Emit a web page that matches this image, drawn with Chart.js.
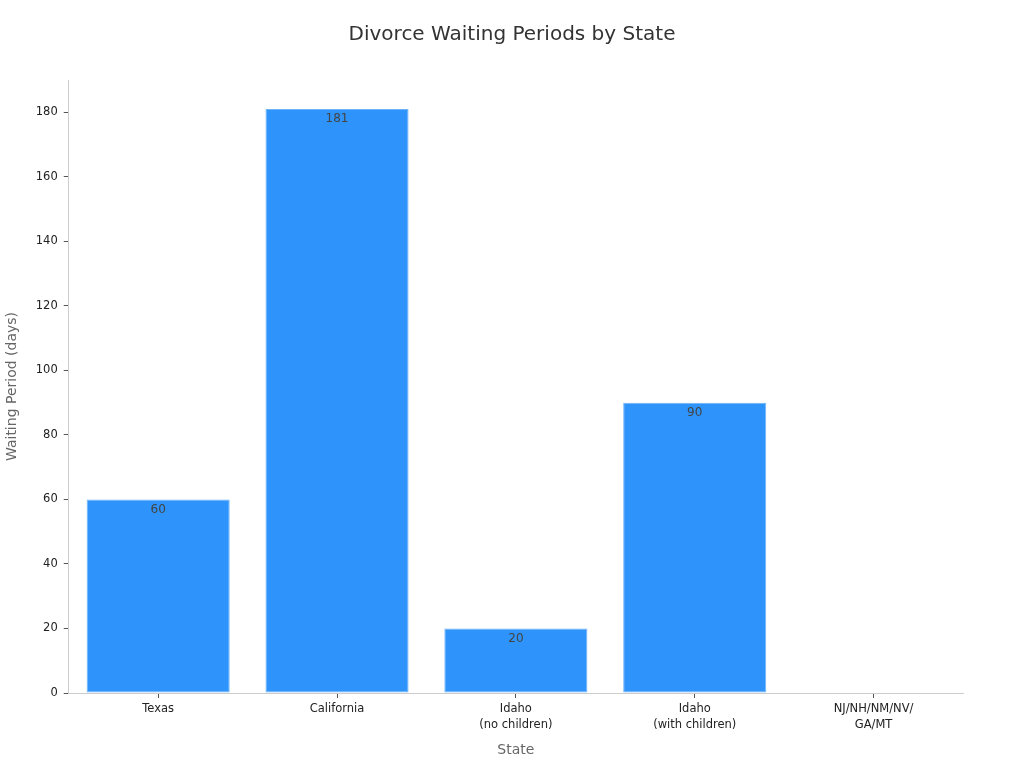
<!DOCTYPE html>
<html>
<head>
<meta charset="utf-8">
<script src="https://cdn.jsdelivr.net/npm/chart.js@4/dist/chart.umd.min.js"></script>
<style>
  html, body { margin: 0; padding: 0; background: #fff; }
  #wrap { width: 1024px; height: 768px; }
</style>
</head>
<body>
<div id="wrap"><canvas id="waitChart"></canvas></div>
<script>
// data
var states = [['Texas'], ['California'], ['Idaho', '(no children)'], ['Idaho', '(with children)'], ['NJ/NH/NM/NV/', 'GA/MT']];
var waitDays = [60, 181, 20, 90, 0];

Chart.defaults.font.family = 'DejaVu Sans, sans-serif';
Chart.defaults.color = '#333';

// value labels just inside the top of each bar
var barLabels = {
    id: 'barLabels',
    afterDatasetsDraw: function (chart) {
        var ctx = chart.ctx;
        var meta = chart.getDatasetMeta(0);
        ctx.save();
        ctx.font = '12px DejaVu Sans, sans-serif';
        ctx.fillStyle = '#444';
        ctx.textAlign = 'center';
        ctx.textBaseline = 'top';
        meta.data.forEach(function (bar, i) {
            var v = waitDays[i];
            if (!v) return;
            ctx.fillText(String(v), bar.x, bar.y + 4);
        });
        ctx.restore();
    }
};

var ctx = document.getElementById('waitChart').getContext('2d');
var waitChart = new Chart(ctx, {
    type: 'bar',
    data: {
        labels: states,
        datasets: [{
            label: 'Waiting Period (days)',
            data: waitDays,
            backgroundColor: '#2E93FA',
            borderColor: '#6DB3F8',
            borderWidth: 1,
            borderSkipped: false,
            categoryPercentage: 1,
            barPercentage: 0.8
        }]
    },
    options: {
        responsive: true,
        maintainAspectRatio: false,
        animation: false,
        layout: { padding: { left: 0, right: 0, top: 0, bottom: 5 } },
        plugins: {
            legend: { display: false },
            tooltip: { enabled: false },
            title: {
                display: true,
                text: 'Divorce Waiting Periods by State',
                color: '#333',
                font: { size: 20, weight: 'normal' },
                padding: { top: 23, bottom: 33 }
            }
        },
        scales: {
            x: {
                grid: { display: true, offset: false, drawOnChartArea: false, tickLength: 5, color: '#555' },
                border: { color: '#ccc' },
                ticks: { color: '#222', font: { size: 11.5, lineHeight: 1.4 }, padding: 3 },
                title: { display: true, text: 'State', color: '#666', font: { size: 14 }, padding: { top: 6 } }
            },
            y: {
                min: 0,
                max: 190,
                grid: { display: true, drawOnChartArea: false, tickLength: 5, color: '#555' },
                border: { color: '#ccc' },
                ticks: {
                    stepSize: 20,
                    color: '#222',
                    font: { size: 11.5 },
                    padding: 6,
                    callback: function (v) { return v % 20 === 0 && v <= 180 ? v : null; }
                },
                title: { display: true, text: 'Waiting Period (days)', color: '#666', font: { size: 14 }, padding: { bottom: 9 } }
            },
            // empty right-hand axis, only there to leave the margin
            yPad: {
                position: 'right',
                grid: { display: false },
                border: { display: false },
                ticks: { display: false },
                afterFit: function (scale) { scale.width = 61; }
            }
        }
    },
    plugins: [barLabels]
});
</script>
</body>
</html>
